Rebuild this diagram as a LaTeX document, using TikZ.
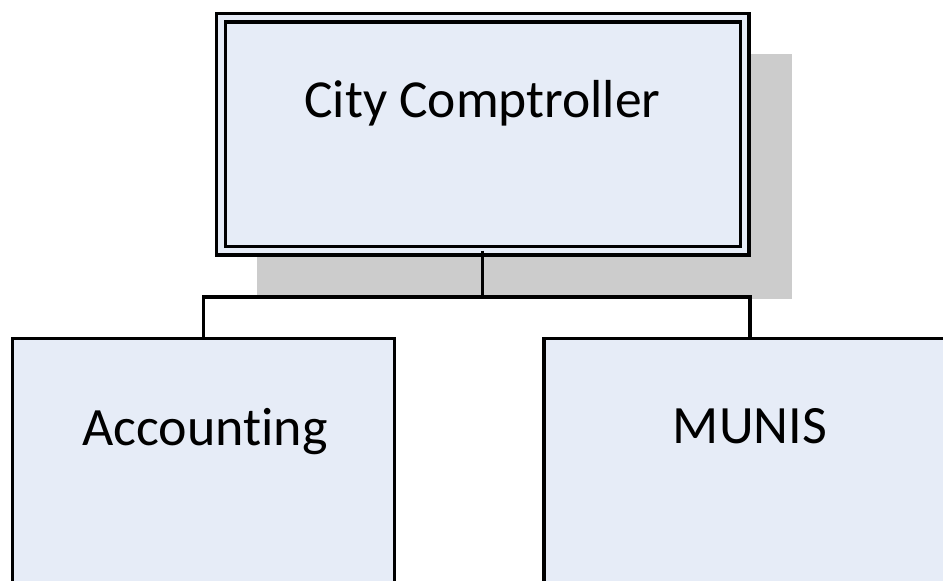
\documentclass[tikz,border=0pt]{standalone}
\usepackage{fontspec}
\setmainfont{Carlito}[Ligatures={NoCommon}]
\definecolor{boxfill}{HTML}{E6ECF7}
\definecolor{shadowgray}{HTML}{CCCCCC}
\begin{document}
\begin{tikzpicture}[x=1pt,y=-1pt,
  orgbox/.style={draw=black, line width=3.2pt, fill=boxfill, inner sep=0pt, outer sep=0pt},
  topbox/.style={draw=black, line width=3.2pt, double=boxfill, double distance=5.6pt, fill=boxfill, inner sep=0pt, outer sep=0pt},
  shadowbox/.style={fill=shadowgray, draw=none, inner sep=0pt, outer sep=0pt},
  label/.style={inner sep=0pt, anchor=base, font=\fontsize{54}{60}\selectfont},
  conn/.style={draw=black, line width=3.2pt}]
\useasboundingbox (0,0) rectangle (943,581);
\node[shadowbox, minimum width=535pt, minimum height=245pt] (shadow) at (524.5,176.5) {};
\node[topbox, minimum width=523.5pt, minimum height=233pt] (top) at (482.75,134) {};
\node[orgbox, minimum width=382pt, minimum height=280pt] (acc) at (203.5,478.5) {};
\node[orgbox, minimum width=412pt, minimum height=280pt] (munis) at (750,478.5) {};
\coordinate (j) at (482.75,297);
\draw[conn] (top.south) -- (j) -| (acc.north);
\draw[conn] (j) -| (munis.north);
\node[label, font=\fontsize{53.5}{60}\selectfont] (toptext) at (482.5,117) {City Comptroller};
\node[label] (acctext) at (205,445) {Accounting};
\node[label] (munistext) at (750,443) {MUNIS};
\end{tikzpicture}
\end{document}
